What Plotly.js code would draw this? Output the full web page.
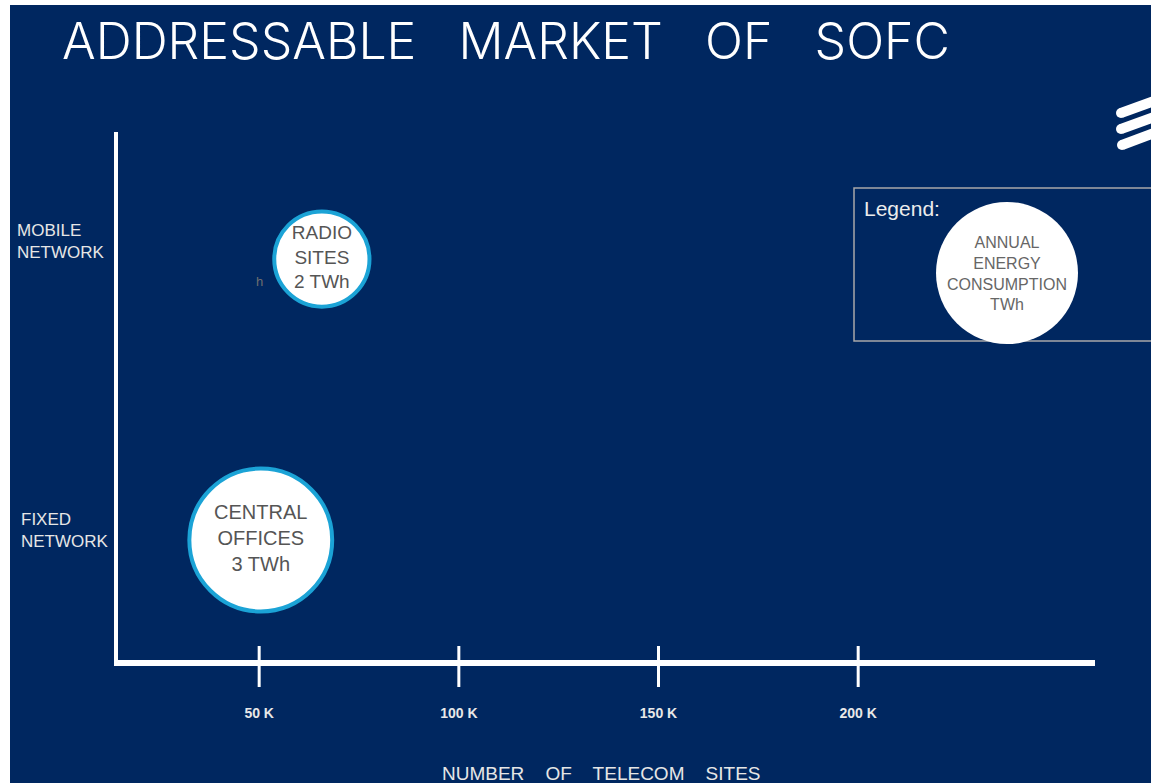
<!DOCTYPE html>
<html>
<head>
<meta charset="utf-8">
<script src="https://cdn.plot.ly/plotly-3.0.1.min.js"></script>
<style>
  html, body { margin: 0; padding: 0; background: #ffffff; width: 1151px; height: 783px; overflow: hidden; }
  #chart { position: absolute; left: 10px; top: 5px; width: 1141px; height: 778px; }
</style>
</head>
<body>
<div id="chart"></div>
<script>
// ---- data ----
const categories = ['FIXED NETWORK', 'MOBILE NETWORK'];
const categoryLabels = ['FIXED<br>NETWORK', 'MOBILE<br>NETWORK'];
const siteNames = ['RADIO<br>SITES', 'CENTRAL<br>OFFICES'];
const siteCategory = ['MOBILE NETWORK', 'FIXED NETWORK'];
const siteCountK = [65.7, 50.4];
const energyTWh = [2, 3];
const xTickValsK = [50, 100, 150, 200];
const xTickText = ['50 K', '100 K', '150 K', '200 K'];
const legendText = 'ANNUAL<br>ENERGY<br>CONSUMPTION<br>TWh';

// ---- geometry helpers (absolute page pixels -> paper coords) ----
const PL = 118, PR = 1095, PT = 132, PB = 660;
const px = p => (p - PL) / (PR - PL);
const py = p => (PB - p) / (PB - PT);

const navy = '#002760';
const fontFam = '"Liberation Sans", Arial, sans-serif';

const trace = {
  type: 'scatter',
  mode: 'markers+text',
  x: siteCountK,
  y: siteCategory,
  text: siteNames.map((n, i) => n + '<br>' + energyTWh[i] + ' TWh'),
  textposition: 'middle center',
  textfont: { family: fontFam, size: [19, 20], color: '#555555' },
  marker: {
    size: energyTWh,
    sizemode: 'diameter',
    sizeref: 0.021,
    color: '#ffffff',
    opacity: 1,
    line: { color: '#1ba3d6', width: 4 }
  },
  cliponaxis: false,
  hoverinfo: 'skip',
  showlegend: false
};

const shapes = [];
// tick marks crossing the x axis
xTickValsK.forEach(v => {
  shapes.push({ type: 'line', xref: 'x', yref: 'paper', x0: v, x1: v,
    y0: py(646), y1: py(687), line: { color: '#ffffff', width: 3 } });
});
// legend box
shapes.push({ type: 'rect', xref: 'paper', yref: 'paper',
  x0: px(854), x1: px(1158), y0: py(341), y1: py(188),
  line: { color: '#a8a8a8', width: 1.5 }, fillcolor: 'rgba(0,0,0,0)' });
// legend circle
shapes.push({ type: 'circle', xref: 'paper', yref: 'paper',
  xsizemode: 'pixel', ysizemode: 'pixel',
  xanchor: px(1007), yanchor: py(273),
  x0: -71, x1: 71, y0: -71, y1: 71,
  fillcolor: '#ffffff', line: { width: 0 } });
// logo bars
[[1121, 113, 1165, 97], [1121, 129, 1165, 113], [1122, 145, 1165, 129]].forEach(b => {
  shapes.push({ type: 'line', xref: 'paper', yref: 'paper',
    x0: px(b[0]), y0: py(b[1]), x1: px(b[2]), y1: py(b[3]),
    line: { color: '#ffffff', width: 10 } });
  shapes.push({ type: 'circle', xref: 'paper', yref: 'paper',
    xsizemode: 'pixel', ysizemode: 'pixel',
    xanchor: px(b[0]), yanchor: py(b[1]),
    x0: -5, x1: 5, y0: -5, y1: 5,
    fillcolor: '#ffffff', line: { width: 0 } });
});

const annotations = [
  { xref: 'paper', yref: 'y', x: px(15), y: categories[1], yshift: 18,
    xanchor: 'left', yanchor: 'middle', align: 'left', showarrow: false,
    text: categoryLabels[1], font: { family: fontFam, size: 17, color: '#e6e6e6' } },
  { xref: 'paper', yref: 'y', x: px(19), y: categories[0], yshift: 10,
    xanchor: 'left', yanchor: 'middle', align: 'left', showarrow: false,
    text: categoryLabels[0], font: { family: fontFam, size: 17, color: '#e6e6e6' } },
  { xref: 'paper', yref: 'paper', x: px(862), y: py(208),
    xanchor: 'left', yanchor: 'middle', showarrow: false,
    text: 'Legend:', font: { family: fontFam, size: 21, color: '#ececec' } },
  { xref: 'paper', yref: 'paper', x: px(1007), y: py(273),
    xanchor: 'center', yanchor: 'middle', align: 'center', showarrow: false,
    text: legendText, font: { family: fontFam, size: 16, color: '#666666' } },
  { xref: 'paper', yref: 'paper', x: px(601), y: py(773),
    xanchor: 'center', yanchor: 'middle', showarrow: false,
    text: 'NUMBER\u00a0\u00a0\u00a0 OF\u00a0\u00a0\u00a0 TELECOM\u00a0\u00a0\u00a0 SITES',
    font: { family: fontFam, size: 19, color: '#e6e6e6' } },
  { xref: 'paper', yref: 'paper', x: px(259), y: py(281),
    xanchor: 'center', yanchor: 'middle', showarrow: false,
    text: 'h', font: { family: fontFam, size: 13, color: '#6f6f6f' } }
];

const layout = {
  width: 1141, height: 778,
  margin: { l: 108, r: 56, t: 127, b: 123, pad: 0 },
  paper_bgcolor: navy,
  plot_bgcolor: navy,
  title: {
    text: 'ADDRESSABLE\u00a0\u00a0 MARKET\u00a0\u00a0 OF\u00a0\u00a0 SOFC',
    font: { family: 'Inter, "DejaVu Sans", sans-serif', size: 50, weight: 300, color: '#ffffff' },
    xref: 'container', yref: 'container',
    x: 52 / 1141, xanchor: 'left',
    y: 1 - 36 / 778, yanchor: 'middle'
  },
  xaxis: {
    range: [14.65, 259.3],
    showgrid: false, zeroline: false,
    showline: true, linecolor: '#ffffff', linewidth: 6,
    tickvals: xTickValsK, ticktext: xTickText,
    ticks: '', ticklabelstandoff: 35,
    tickfont: { family: fontFam, size: 14, weight: 'bold', color: '#e8e8e8' },
    fixedrange: true
  },
  yaxis: {
    type: 'category',
    categoryorder: 'array', categoryarray: categories,
    range: [-0.427, 1.452],
    showgrid: false, zeroline: false,
    showline: true, linecolor: '#ffffff', linewidth: 4,
    showticklabels: false, ticks: '',
    fixedrange: true
  },
  shapes: shapes,
  annotations: annotations,
  showlegend: false
};

Plotly.newPlot('chart', [trace], layout, { displayModeBar: false, staticPlot: true });
</script>
</body>
</html>
